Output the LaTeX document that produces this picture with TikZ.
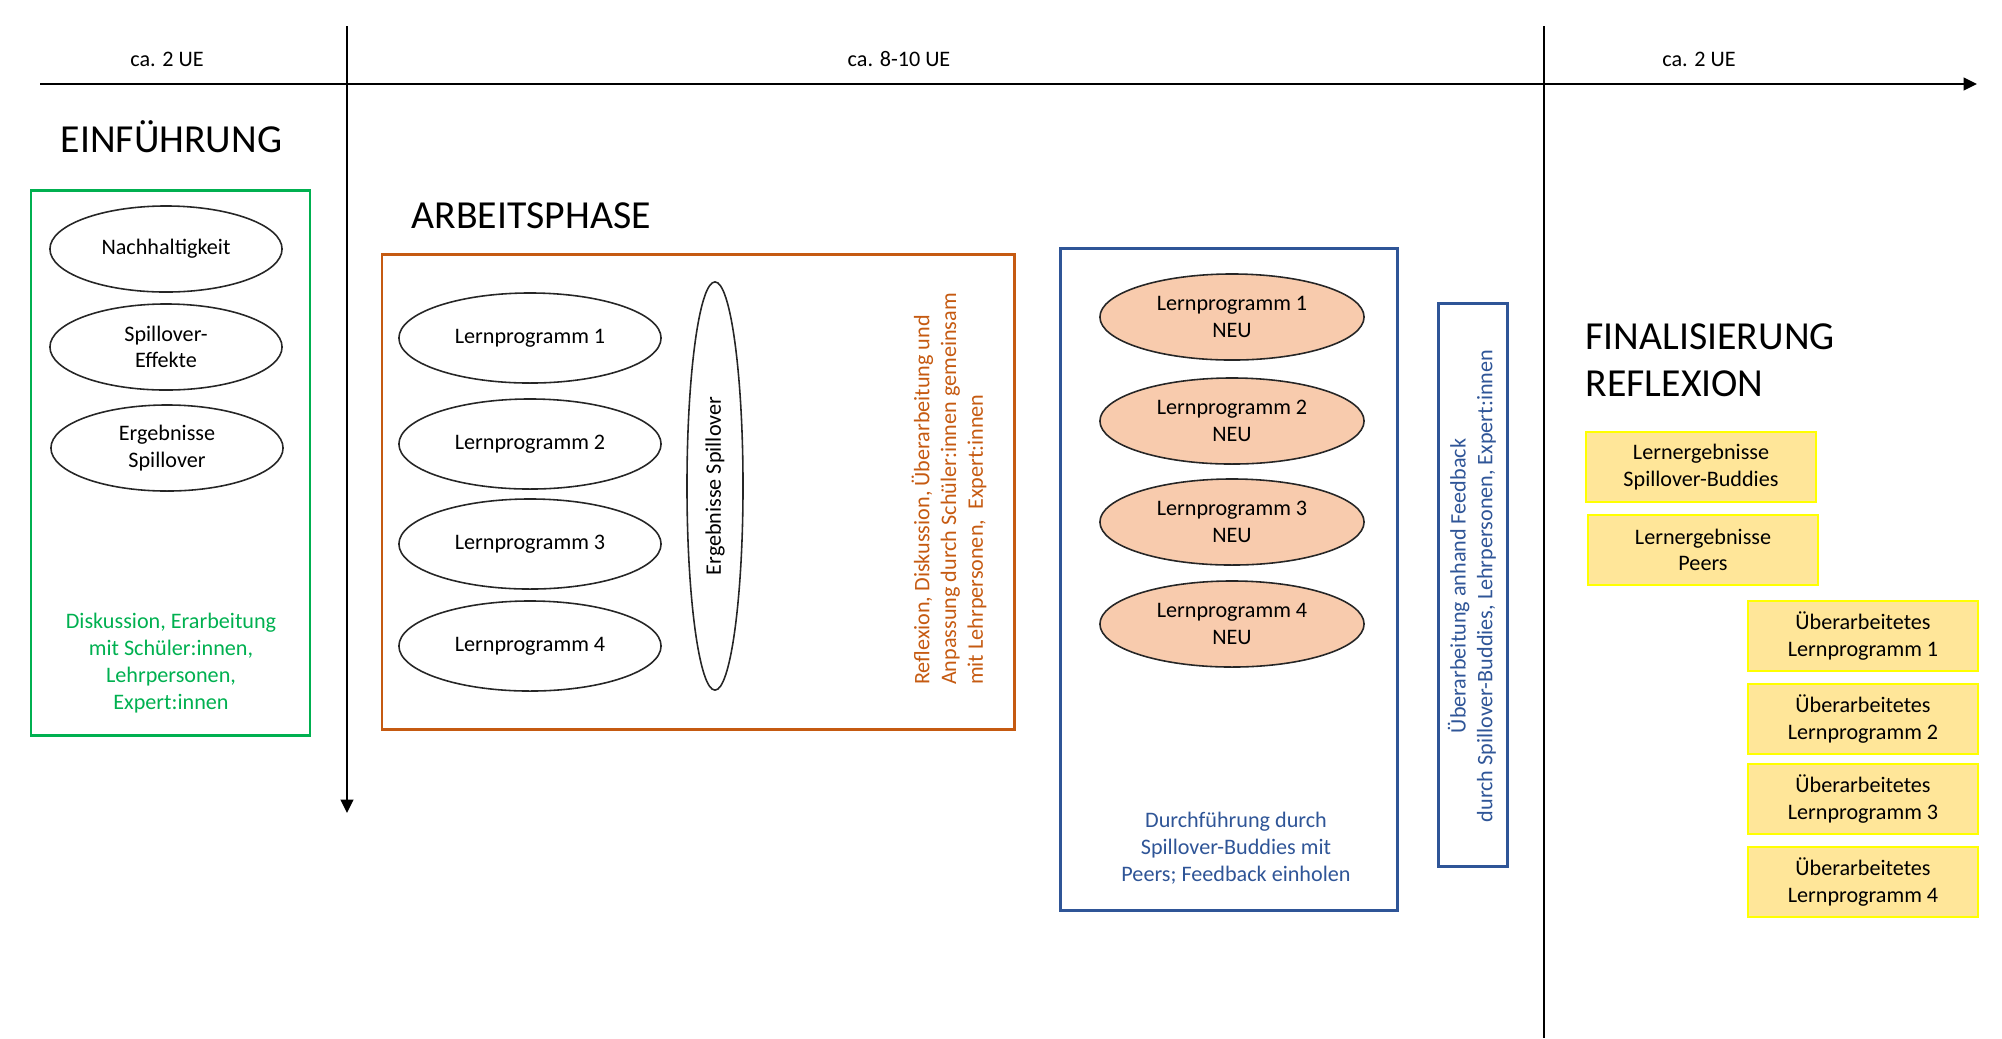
\documentclass[tikz,border=0pt]{standalone}
\usepackage{fontspec}
\setmainfont{Carlito}
\usetikzlibrary{shapes.geometric,arrows.meta}
\definecolor{grn}{RGB}{0,176,80}
\definecolor{orng}{RGB}{197,90,17}
\definecolor{navy}{RGB}{47,85,151}
\definecolor{peach}{RGB}{248,203,173}
\definecolor{ylw}{RGB}{255,230,153}
\definecolor{ylwb}{RGB}{255,255,0}
\begin{document}
\begin{tikzpicture}[x=0.01cm,y=-0.01cm,
  small/.style={font=\fontsize{6.3}{7.6}\selectfont, align=center},
  head/.style={font=\fontsize{11.3}{13.4}\selectfont, anchor=west, align=left, inner sep=0pt},
  axis/.style={line width=0.55pt, black},
  tip/.style={-{Triangle[length=3.8pt,width=3.6pt]}},
  oval/.style={ellipse, draw=black!85, line width=0.45pt, inner sep=0pt, small},
  gov/.style={oval, minimum width=2.32cm, minimum height=0.86cm},
  lov/.style={oval, minimum width=2.62cm, minimum height=0.90cm},
  nov/.style={oval, fill=peach, minimum width=2.64cm, minimum height=0.86cm},
  ybox/.style={draw=ylwb, fill=ylw, line width=0.6pt, minimum width=2.30cm, minimum height=0.70cm, inner sep=0pt, small},
  frame/.style={line width=0.85pt}]
\useasboundingbox (0,0) rectangle (2002,1038);

% time axis
\coordinate (axs) at (40,84);
\coordinate (axe) at (1977,84);
\draw[axis,tip] (axs) -- (axe);
\coordinate (v1s) at (347,26);
\coordinate (v1e) at (347,813);
\draw[axis,tip] (v1s) -- (v1e);
\coordinate (v2s) at (1544,26);
\coordinate (v2e) at (1544,1038);
\draw[axis] (v2s) -- (v2e);

\node[small] (t1) at (167,59) {ca. 2 UE};
\node[small] (t2) at (899,59) {ca. 8-10 UE};
\node[small] (t3) at (1699,59) {ca. 2 UE};

% Einfuehrung
\node[head] (h1) at (60,137) {EINFÜHRUNG};
\draw[frame, grn] (31,190) rectangle (310,735);
\node[gov] (e1) at (166,249) {Nachhaltigkeit};
\node[gov] (e2) at (166,347) {Spillover-\\Effekte};
\node[gov] (e3) at (167,448) {Ergebnisse\\Spillover};
\node[small, text=grn] (gt) at (171,663) {Diskussion, Erarbeitung\\mit Schüler:innen,\\Lehrpersonen,\\Expert:innen};

% Arbeitsphase
\node[head] (h2) at (411,216) {ARBEITSPHASE};
\draw[frame, orng] (382,254) rectangle (1014,729);
\node[lov] (l1) at (530,338) {Lernprogramm 1};
\node[lov] (l2) at (530,444) {Lernprogramm 2};
\node[lov] (l3) at (530,544) {Lernprogramm 3};
\node[lov] (l4) at (530,646) {Lernprogramm 4};
\node[oval, minimum width=0.56cm, minimum height=4.08cm] (es) at (715,486) {};
\node[small, rotate=90] (est) at (es.center) {Ergebnisse Spillover};
\node[small, text=orng, rotate=90, align=left] (ot) at (949,489) {Reflexion, Diskussion, Überarbeitung und\\Anpassung durch Schüler:innen gemeinsam\\mit Lehrpersonen,\ \ Expert:innen};

\draw[frame, navy] (1060,248) rectangle (1397,910);
\node[nov] (n1) at (1232,317) {Lernprogramm 1\\NEU};
\node[nov] (n2) at (1232,421) {Lernprogramm 2\\NEU};
\node[nov] (n3) at (1232,522) {Lernprogramm 3\\NEU};
\node[nov] (n4) at (1232,624) {Lernprogramm 4\\NEU};
\node[small, text=navy] (bt) at (1236,848) {Durchführung durch\\Spillover-Buddies mit\\Peers; Feedback einholen};

\draw[frame, navy] (1438,303) rectangle (1507,866);
\node[small, text=navy, rotate=90] (ft) at (1472,586) {Überarbeitung anhand Feedback\\durch Spillover-Buddies, Lehrpersonen, Expert:innen};

% Finalisierung
\node[head] (h3) at (1585,360) {FINALISIERUNG\\REFLEXION};
\node[ybox] (y1) at (1701,467) {Lernergebnisse\\Spillover-Buddies};
\node[ybox] (y2) at (1703,550) {Lernergebnisse\\Peers};
\node[ybox] (y3) at (1863,636) {Überarbeitetes\\Lernprogramm 1};
\node[ybox] (y4) at (1863,719) {Überarbeitetes\\Lernprogramm 2};
\node[ybox] (y5) at (1863,799) {Überarbeitetes\\Lernprogramm 3};
\node[ybox] (y6) at (1863,882) {Überarbeitetes\\Lernprogramm 4};
\end{tikzpicture}
\end{document}
